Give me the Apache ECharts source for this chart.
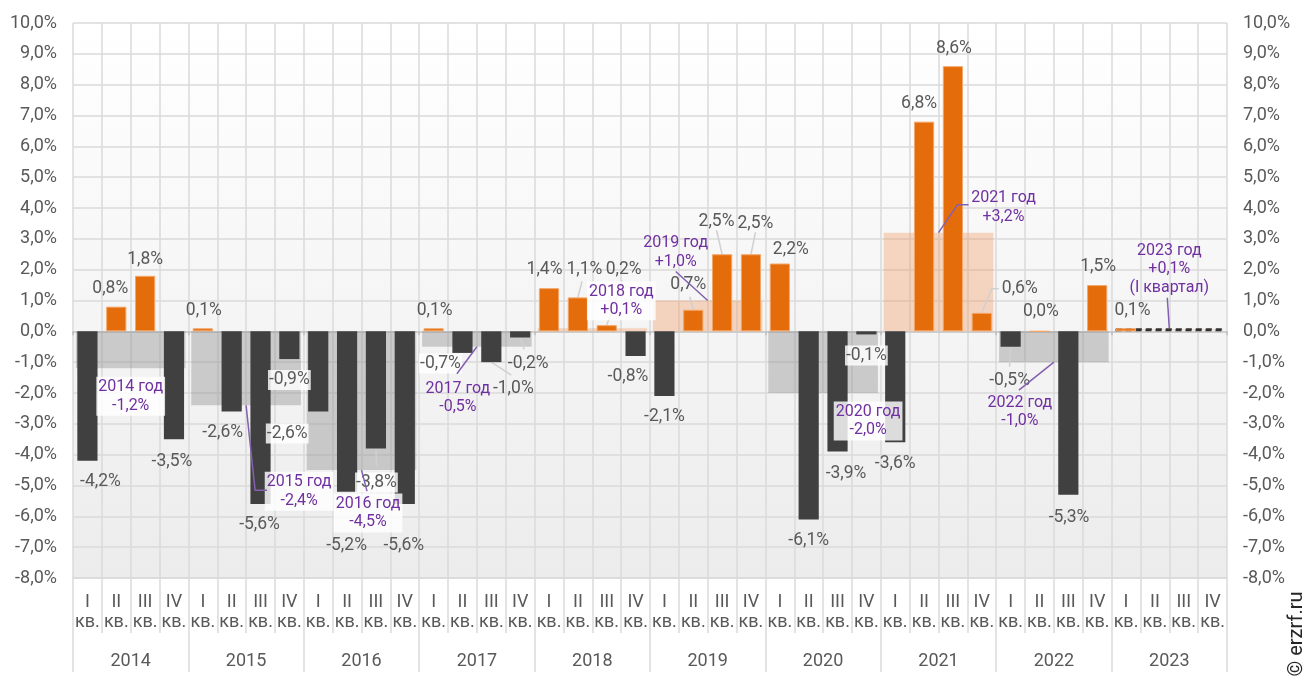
<!DOCTYPE html>
<html>
<head>
<meta charset="utf-8">
<title>Динамика по кварталам и годам</title>
<script src="https://cdn.jsdelivr.net/npm/echarts@6/dist/echarts.min.js"></script>
<style>
  html, body { margin: 0; padding: 0; background: #ffffff; }
  #chart { width: 1309px; height: 684px; }
</style>
</head>
<body>
<div id="chart"></div>
<script>
// ---- data ----
const years = ['2014', '2015', '2016', '2017', '2018', '2019', '2020', '2021', '2022', '2023'];
const quarterNames = ['I', 'II', 'III', 'IV'];
// quarter-on-quarter change, %, four quarters per year (2023: only Q1 published)
const quarterValues = [
  -4.2, 0.8, 1.8, -3.5,
   0.1, -2.6, -5.6, -0.9,
  -2.6, -5.2, -3.8, -5.6,
   0.1, -0.7, -1.0, -0.2,
   1.4, 1.1, 0.2, -0.8,
  -2.1, 0.7, 2.5, 2.5,
   2.2, -6.1, -3.9, -0.1,
  -3.6, 6.8, 8.6, 0.6,
  -0.5, 0.0, -5.3, 1.5,
   0.1, null, null, null
];
// year totals, %
const annualValues = [-1.2, -2.4, -4.5, -0.5, 0.1, 1.0, -2.0, 3.2, -1.0, 0.1];
const annualNotes = ['', '', '', '', '', '', '', '', '', '(I квартал)'];
const partialYear = 9; // 2023 is incomplete
const yMin = -8, yMax = 10, yStep = 1;

// ---- label placement (pixel shifts from the bar end) ----
const qLabelShift = {
  0: [13, 20.5], 1: [-6, -18], 2: [0, -16.5], 3: [-2, 22], 4: [1, -18], 5: [-9, 21],
  6: [-1, 20.5], 7: [0, 21], 8: [-31, 22], 9: [-0.5, 54], 10: [0.5, 34], 11: [-1, 42],
  12: [1, -18], 13: [-22, 10.5], 14: [22, 26], 15: [8, 26], 16: [-4.5, -19], 17: [6.6, -28],
  18: [17, -56], 19: [-7.6, 21], 20: [0, 21], 21: [-5, -25], 22: [-5.6, -33], 23: [4.5, -31],
  24: [11, -14], 25: [0, 21], 26: [8.5, 22], 27: [0, 21], 28: [0, 21], 29: [-5, -18],
  30: [1, -18], 31: [38, -24], 32: [-1, 34], 33: [1.5, -19], 34: [0.7, 22.5], 35: [1, -18],
  36: [6.5, -18]
};
// leader line bends, relative to the label centre
const qLeader = {
  10: [[0, -16]], 14: [[-2, -13]], 15: [[-4, -14]], 17: [[-2.5, 12]], 18: [[-1.5, 11]],
  21: [[1.5, 12]], 22: [[0, 9]], 23: [[0, 9]], 31: [[-28, 0], [-21, 0]], 32: [[0, -14]]
};
const qBoxed = [7, 8, 10, 13, 27];

const aLabelShift = [[0, 28], [53, 86], [6.5, 43], [-19, 51], [29, -27.5],
                     [-32, -48], [45, 28], [65, -25], [-34, 50], [0, -59]];
const aLeader = {
  1: [[-44, -1], [-32, -1]], 2: [[-1, -22]], 3: [[-1, -24]], 5: [[0, 19]],
  7: [[-46, -3], [-35, -3]], 8: [[-1, -22]], 9: [[-2, 28.5]]
};
const aBoxed = [0, 1, 2, 4, 6];

// ---- styles ----
const ORANGE = '#e46c0a';
const DARK = '#404040';
const PEACH = 'rgba(240,150,90,0.35)';
const GREY = 'rgba(140,140,140,0.4)';
const PURPLE = '#7030a0';
const TEXT = '#595959';
const GRID = '#dadada';
const FONT = 'Roboto';

const fmt = v => v.toFixed(1).replace('.', ',') + '%';
const fmtSigned = v => (v > 0 ? '+' : '') + fmt(v);

const quarterCats = [];
years.forEach(() => quarterNames.forEach(q => quarterCats.push(q + '\nкв.')));

const quarterData = quarterValues.map((v, i) => {
  if (v == null) return null;
  const item = {
    value: v,
    itemStyle: v >= 0
      ? { color: ORANGE, borderColor: '#f2a66a', borderWidth: 1 }
      : { color: DARK }
  };
  if (qBoxed.includes(i)) {
    item.label = { backgroundColor: 'rgba(255,255,255,0.82)', padding: [2, 1, 0, 1] };
  }
  return item;
});

const annualData = annualValues.map((v, i) => {
  const item = { value: v, itemStyle: { color: v >= 0 ? PEACH : GREY } };
  if (i === partialYear) {
    item.itemStyle = { color: PEACH, borderColor: '#333333', borderWidth: 2, borderType: [6, 4] };
  }
  return item;
});

const annualLabelData = annualValues.map((v, i) => {
  const item = { value: v };
  if (aBoxed.includes(i)) {
    item.label = { backgroundColor: 'rgba(255,255,255,0.82)', padding: [1, 2] };
  }
  return item;
});

function barEnd(rect, v) {
  return [rect.x + rect.width / 2, v >= 0 ? rect.y : rect.y + rect.height];
}

const chart = echarts.init(document.getElementById('chart'), null, { renderer: 'canvas' });

const yAxisCommon = {
  type: 'value', min: yMin, max: yMax, interval: yStep,
  axisLine: { show: false }, axisTick: { show: false },
  axisLabel: { formatter: v => fmt(v), color: TEXT, fontSize: 18, fontFamily: FONT, margin: 16 }
};

chart.setOption({
  animation: false,
  textStyle: { fontFamily: FONT },
  grid: {
    left: 73, right: 82, top: 23, bottom: 106, show: true, borderWidth: 0,
    backgroundColor: {
      type: 'linear', x: 0, y: 0, x2: 0, y2: 1,
      colorStops: [{ offset: 0, color: '#ffffff' }, { offset: 1, color: '#ececec' }]
    }
  },
  xAxis: [
    {
      type: 'category', data: quarterCats, position: 'bottom',
      axisLine: { onZero: false, lineStyle: { color: GRID, width: 1.5 } },
      axisTick: { show: true, interval: 0, length: 55, lineStyle: { color: GRID, width: 1.5 } },
      axisLabel: { interval: 0, color: TEXT, fontSize: 18, lineHeight: 20, margin: 14, fontFamily: FONT },
      splitLine: { show: true, interval: 0, lineStyle: { color: GRID, width: 1.5 } }
    },
    {
      type: 'category', data: years, position: 'bottom',
      axisLine: { show: false, onZero: false },
      axisTick: { show: true, interval: 0, length: 94, lineStyle: { color: GRID, width: 1.5 } },
      axisLabel: { interval: 0, color: TEXT, fontSize: 18, lineHeight: 22, margin: 72, fontFamily: FONT },
      splitLine: { show: false }
    },
    {
      type: 'category', data: years, position: 'bottom',
      axisLine: { show: true, onZero: true, lineStyle: { color: '#c8c8c8', width: 1.5 } },
      axisTick: { show: true, interval: 0, length: 4, lineStyle: { color: '#bdbdbd', width: 1.5 } },
      axisLabel: { show: false },
      splitLine: { show: false }
    }
  ],
  yAxis: [
    Object.assign({}, yAxisCommon, {
      position: 'left',
      splitLine: { show: true, lineStyle: { color: GRID, width: 1.5 } }
    }),
    Object.assign({}, yAxisCommon, {
      position: 'right',
      splitLine: { show: false },
      axisLabel: Object.assign({}, yAxisCommon.axisLabel)
    })
  ],
  series: [
    {
      // year totals, wide bars behind the quarters
      name: 'год', type: 'bar', xAxisIndex: 1, yAxisIndex: 0,
      barWidth: '95%', barGap: '-100%', z: 1, silent: true,
      data: annualData
    },
    {
      name: 'квартал', type: 'bar', xAxisIndex: 0, yAxisIndex: 0,
      barWidth: '70%', z: 2, silent: true,
      data: quarterData,
      label: {
        show: true, color: TEXT, fontSize: 17.5, fontFamily: FONT,
        formatter: p => fmt(p.value)
      },
      labelLayout: function (p) {
        const i = p.dataIndex, v = quarterValues[i];
        const s = qLabelShift[i] || [0, v >= 0 ? -18 : 21];
        const e = barEnd(p.rect, v);
        return { x: e[0] + s[0], y: e[1] + s[1], align: 'center', verticalAlign: 'middle' };
      }
    },
    {
      // leader lines from quarter bars to their labels
      type: 'custom', xAxisIndex: 0, yAxisIndex: 0, z: 2, silent: true,
      data: Object.keys(qLeader).map(k => [+k, quarterValues[+k]]),
      renderItem: function (params, api) {
        const i = api.value(0), v = api.value(1);
        const p = api.coord([i, v]);
        const s = qLabelShift[i];
        const lx = p[0] + s[0], ly = p[1] + s[1];
        const pts = [p].concat(qLeader[i].map(o => [lx + o[0], ly + o[1]]));
        return { type: 'polyline', shape: { points: pts },
                 style: { stroke: '#d0d0d0', lineWidth: 1.5, fill: null } };
      }
    },
    {
      // year captions
      name: 'подписи', type: 'bar', xAxisIndex: 1, yAxisIndex: 0,
      barWidth: '95%', barGap: '-100%', z: 4, silent: true,
      itemStyle: { color: 'rgba(0,0,0,0)' },
      data: annualLabelData,
      label: {
        show: true, color: PURPLE, fontSize: 16, lineHeight: 18.5, fontFamily: FONT, align: 'center',
        formatter: p => years[p.dataIndex] + ' год\n' + fmtSigned(annualValues[p.dataIndex]) +
          (annualNotes[p.dataIndex] ? '\n' + annualNotes[p.dataIndex] : '')
      },
      labelLayout: function (p) {
        const i = p.dataIndex, v = annualValues[i];
        const s = aLabelShift[i];
        const e = barEnd(p.rect, v);
        return { x: e[0] + s[0], y: e[1] + s[1], align: 'center', verticalAlign: 'middle' };
      }
    },
    {
      // leader lines from year bars to their captions
      type: 'custom', xAxisIndex: 1, yAxisIndex: 0, z: 5, silent: true,
      data: Object.keys(aLeader).map(k => [+k, annualValues[+k]]),
      renderItem: function (params, api) {
        const i = api.value(0), v = api.value(1);
        const p = api.coord([i, v]);
        const s = aLabelShift[i];
        const lx = p[0] + s[0], ly = p[1] + s[1];
        const pts = [p].concat(aLeader[i].map(o => [lx + o[0], ly + o[1]]));
        return { type: 'polyline', shape: { points: pts },
                 style: { stroke: '#8360b0', lineWidth: 1.5, fill: null } };
      }
    }
  ],
  graphic: [
    {
      type: 'text', x: 1297, y: 634, rotation: Math.PI / 2, silent: true,
      style: { text: '© erzrf.ru', fontSize: 20, fontFamily: FONT, fill: '#262626',
               align: 'center', verticalAlign: 'middle' }
    }
  ]
});
</script>
</body>
</html>
